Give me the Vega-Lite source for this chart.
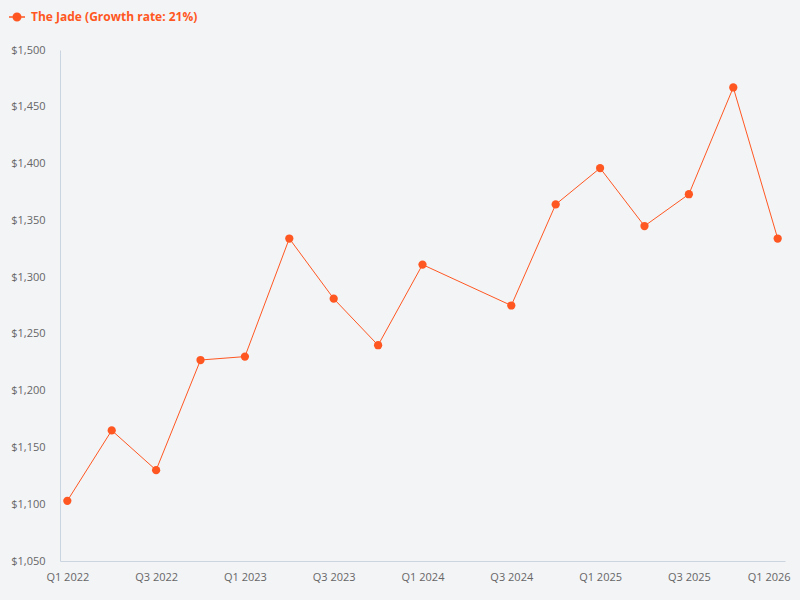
{
  "$schema": "https://vega.github.io/schema/vega-lite/v6.json",
  "width": 725,
  "height": 511,
  "autosize": {"type": "none"},
  "padding": {"left": 60, "top": 50, "right": 15, "bottom": 39},
  "background": "#f3f4f6",
  "view": {"fill": "#f3f4f6", "stroke": null},
  "config": {"font": "Open Sans"},
  "data": {
    "values": [
      {"quarter": "Q1 2022", "price": 1103, "series": "The Jade (Growth rate: 21%)"},
      {"quarter": "Q2 2022", "price": 1165, "series": "The Jade (Growth rate: 21%)"},
      {"quarter": "Q3 2022", "price": 1130, "series": "The Jade (Growth rate: 21%)"},
      {"quarter": "Q4 2022", "price": 1227, "series": "The Jade (Growth rate: 21%)"},
      {"quarter": "Q1 2023", "price": 1230, "series": "The Jade (Growth rate: 21%)"},
      {"quarter": "Q2 2023", "price": 1334, "series": "The Jade (Growth rate: 21%)"},
      {"quarter": "Q3 2023", "price": 1281, "series": "The Jade (Growth rate: 21%)"},
      {"quarter": "Q4 2023", "price": 1240, "series": "The Jade (Growth rate: 21%)"},
      {"quarter": "Q1 2024", "price": 1311, "series": "The Jade (Growth rate: 21%)"},
      {"quarter": "Q3 2024", "price": 1275, "series": "The Jade (Growth rate: 21%)"},
      {"quarter": "Q4 2024", "price": 1364, "series": "The Jade (Growth rate: 21%)"},
      {"quarter": "Q1 2025", "price": 1396, "series": "The Jade (Growth rate: 21%)"},
      {"quarter": "Q2 2025", "price": 1345, "series": "The Jade (Growth rate: 21%)"},
      {"quarter": "Q3 2025", "price": 1373, "series": "The Jade (Growth rate: 21%)"},
      {"quarter": "Q4 2025", "price": 1467, "series": "The Jade (Growth rate: 21%)"},
      {"quarter": "Q1 2026", "price": 1334, "series": "The Jade (Growth rate: 21%)"}
    ]
  },
  "mark": {
    "type": "line",
    "strokeWidth": 1,
    "point": {"filled": true, "size": 68, "opacity": 1}
  },
  "encoding": {
    "x": {
      "field": "quarter",
      "type": "ordinal",
      "sort": null,
      "scale": {
        "type": "point",
        "padding": 0.165,
        "domain": ["Q1 2022", "Q2 2022", "Q3 2022", "Q4 2022", "Q1 2023", "Q2 2023", "Q3 2023", "Q4 2023", "Q1 2024", "Q2 2024", "Q3 2024", "Q4 2024", "Q1 2025", "Q2 2025", "Q3 2025", "Q4 2025", "Q1 2026"]
      },
      "axis": {
        "title": null,
        "values": ["Q1 2022", "Q3 2022", "Q1 2023", "Q3 2023", "Q1 2024", "Q3 2024", "Q1 2025", "Q3 2025", "Q1 2026"],
        "labelAngle": 0,
        "ticks": false,
        "grid": false,
        "domainColor": "#cbd5e1",
        "labelColor": "#666666",
        "labelFontSize": 11,
        "labelPadding": 10,
        "labelOffset": {"condition": {"test": "datum.label == 'Q1 2026'", "value": -9}, "value": 0}
      }
    },
    "y": {
      "field": "price",
      "type": "quantitative",
      "scale": {"domain": [1050, 1500], "nice": false, "zero": false},
      "axis": {
        "title": null,
        "values": [1050, 1100, 1150, 1200, 1250, 1300, 1350, 1400, 1450, 1500],
        "format": "$,.0f",
        "ticks": false,
        "grid": false,
        "domainColor": "#cbd5e1",
        "labelColor": "#666666",
        "labelFontSize": 11,
        "labelPadding": 15
      }
    },
    "color": {
      "field": "series",
      "type": "nominal",
      "scale": {"range": ["#ff5722"]},
      "legend": {
        "title": null,
        "orient": "none",
        "legendX": -52,
        "legendY": -42,
        "symbolType": "M -1 0 L 1 0 M 0.47 0 A 0.47 0.47 0 1 1 -0.47 0 A 0.47 0.47 0 1 1 0.47 0 Z",
        "symbolSize": 256,
        "symbolStrokeWidth": 1.5,
        "symbolFillColor": "#ff5722",
        "symbolStrokeColor": "#ff5722",
        "labelColor": "#ff5722",
        "labelFontSize": 12,
        "labelFontWeight": "bold",
        "labelLimit": 400,
        "labelOffset": 5
      }
    }
  }
}
